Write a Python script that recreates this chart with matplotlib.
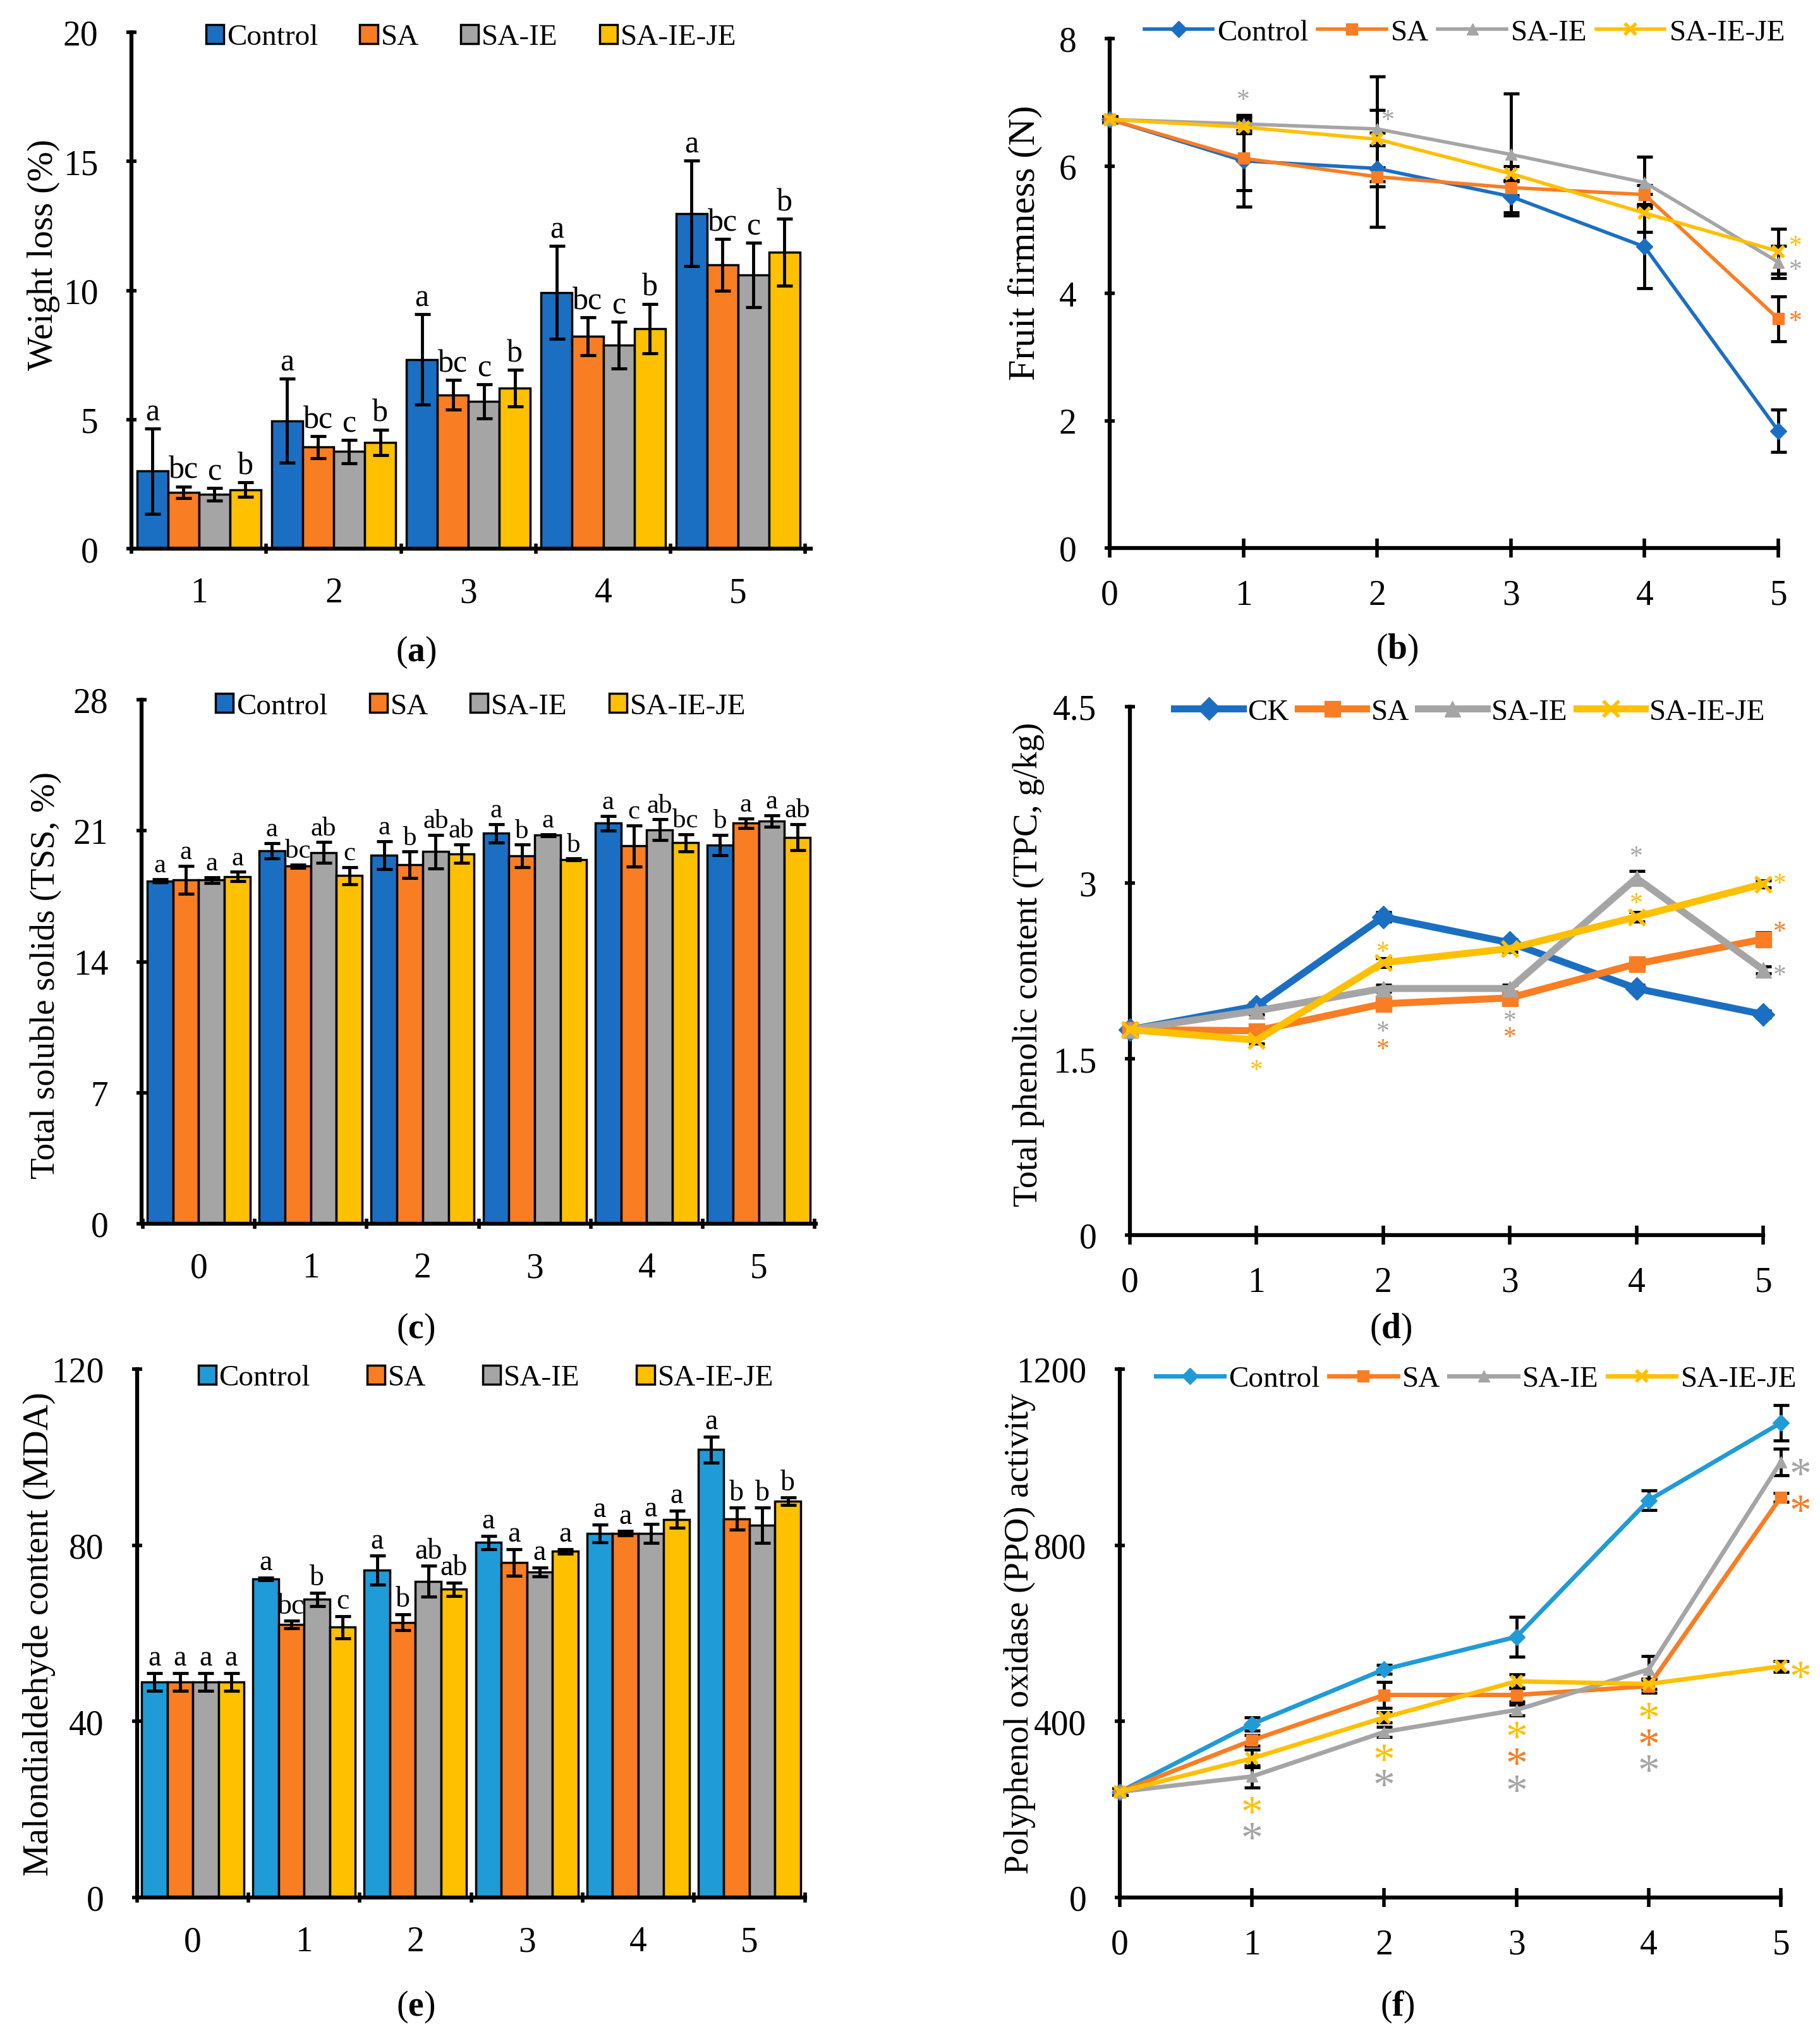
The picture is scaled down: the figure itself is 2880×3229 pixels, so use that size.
import numpy as np
import matplotlib.pyplot as plt

plt.rcParams['font.family'] = 'Liberation Serif'
plt.rcParams['mathtext.fontset'] = 'custom'
plt.rcParams['mathtext.rm'] = 'Liberation Serif'
plt.rcParams['mathtext.bf'] = 'Liberation Serif:bold'

# ---------------- data ----------------
names = ['Control', 'SA', 'SA-IE', 'SA-IE-JE']
tpc_names = ['CK', 'SA', 'SA-IE', 'SA-IE-JE']

# (a) weight loss, days 1-5
wl_days = [1, 2, 3, 4, 5]
wl_control = [3.0, 4.95, 7.32, 9.92, 12.98]
wl_sa = [2.19, 3.93, 5.96, 8.22, 11.0]
wl_saie = [2.1, 3.76, 5.70, 7.88, 10.6]
wl_saieje = [2.28, 4.12, 6.21, 8.52, 11.48]
wl_control_err = [1.65, 1.63, 1.75, 1.8, 2.04]
wl_sa_err = [0.22, 0.42, 0.57, 0.74, 1.0]
wl_saie_err = [0.25, 0.45, 0.66, 0.91, 1.25]
wl_saieje_err = [0.28, 0.49, 0.71, 0.96, 1.3]
wl_letters = [['a'] * 5, ['bc'] * 5, ['c'] * 5, ['b'] * 5]

# (b) fruit firmness, days 0-5
ff_days = [0, 1, 2, 3, 4, 5]
ff_control = [6.73, 6.08, 5.96, 5.52, 4.73, 1.84]
ff_sa = [6.73, 6.12, 5.83, 5.66, 5.55, 3.60]
ff_saie = [6.73, 6.66, 6.58, 6.18, 5.74, 4.49]
ff_saieje = [6.73, 6.61, 6.42, 5.88, 5.26, 4.66]
ff_control_err = [0.05, 0.72, 0.92, 0.25, 0.65, 0.33]
ff_sa_err = [0.05, 0.50, 0.15, 0.12, 0.15, 0.35]
ff_saie_err = [0.05, 0.10, 0.82, 0.96, 0.40, 0.25]
ff_saieje_err = [0.05, 0.10, 0.10, 0.12, 0.30, 0.35]
# significance stars: (day, series index, y position)
ff_stars = [(1.0, 2, 7.12), (2.08, 2, 6.80), (5.13, 3, 4.83), (5.13, 2, 4.45), (5.13, 1, 3.65)]

# (c) total soluble solids, days 0-5
tss_days = [0, 1, 2, 3, 4, 5]
tss_control = [18.32, 19.93, 19.70, 20.86, 21.40, 20.23]
tss_sa = [18.37, 19.11, 19.18, 19.65, 20.19, 21.40]
tss_saie = [18.37, 19.84, 19.88, 20.77, 21.05, 21.51]
tss_saieje = [18.55, 18.60, 19.77, 19.46, 20.35, 20.65]
tss_control_err = [0.08, 0.40, 0.75, 0.50, 0.40, 0.55]
tss_sa_err = [0.75, 0.08, 0.70, 0.60, 1.10, 0.25]
tss_saie_err = [0.15, 0.55, 0.90, 0.05, 0.55, 0.30]
tss_saieje_err = [0.25, 0.45, 0.50, 0.05, 0.45, 0.70]
tss_letters = [['a', 'a', 'a', 'a', 'a', 'b'],
               ['a', 'bc', 'b', 'b', 'c', 'a'],
               ['a', 'ab', 'ab', 'a', 'ab', 'a'],
               ['a', 'c', 'ab', 'b', 'bc', 'ab']]

# (d) total phenolic content, days 0-5
tpc_days = [0, 1, 2, 3, 4, 5]
tpc_ck = [1.75, 1.95, 2.71, 2.49, 2.10, 1.88]
tpc_sa = [1.75, 1.74, 1.97, 2.02, 2.31, 2.52]
tpc_saie = [1.75, 1.91, 2.10, 2.10, 3.04, 2.26]
tpc_saieje = [1.75, 1.66, 2.32, 2.44, 2.71, 2.99]
tpc_ck_err = [0.02, 0.03, 0.04, 0.03, 0.03, 0.03]
tpc_sa_err = [0.02, 0.03, 0.03, 0.03, 0.03, 0.06]
tpc_saie_err = [0.02, 0.03, 0.03, 0.03, 0.06, 0.03]
tpc_saieje_err = [0.02, 0.03, 0.04, 0.03, 0.04, 0.03]
tpc_stars = [(1, 3, 1.45), (2, 3, 2.46), (2, 2, 1.78), (2, 1, 1.63),
             (3, 2, 1.87), (3, 1, 1.73), (4, 2, 3.27), (4, 3, 2.87),
             (5.13, 3, 3.04), (5.13, 1, 2.63), (5.13, 2, 2.26)]

# (e) malondialdehyde content, days 0-5
mda_days = [0, 1, 2, 3, 4, 5]
mda_control = [49.0, 72.4, 74.3, 80.6, 82.7, 101.7]
mda_sa = [49.0, 62.0, 62.5, 76.1, 82.7, 86.0]
mda_saie = [49.0, 67.7, 71.8, 73.9, 82.7, 84.5]
mda_saieje = [49.0, 61.4, 70.0, 78.6, 85.9, 90.0]
mda_control_err = [2.0, 0.3, 3.3, 1.5, 2.0, 3.0]
mda_sa_err = [2.0, 0.8, 1.8, 3.0, 0.5, 2.5]
mda_saie_err = [2.0, 1.5, 3.5, 1.0, 2.2, 4.0]
mda_saieje_err = [2.0, 2.5, 1.5, 0.5, 2.0, 0.8]
mda_letters = [['a', 'a', 'a', 'a', 'a', 'a'],
               ['a', 'bc', 'b', 'a', 'a', 'b'],
               ['a', 'b', 'ab', 'a', 'a', 'b'],
               ['a', 'c', 'ab', 'a', 'a', 'b']]

# (f) polyphenol oxidase activity, days 0-5
ppo_days = [0, 1, 2, 3, 4, 5]
ppo_control = [240, 394, 518, 592, 902, 1078]
ppo_sa = [240, 357, 460, 460, 480, 909]
ppo_saie = [240, 275, 376, 426, 518, 989]
ppo_saieje = [240, 316, 409, 491, 485, 525]
ppo_control_err = [8, 15, 10, 45, 22, 40]
ppo_sa_err = [8, 12, 30, 15, 15, 10]
ppo_saie_err = [8, 25, 12, 12, 30, 30]
ppo_saieje_err = [8, 20, 12, 15, 12, 12]
ppo_stars = [(1, 3, 210), (1, 2, 151), (2, 3, 329), (2, 2, 272),
             (3, 3, 381), (3, 1, 321), (3, 2, 260),
             (4, 3, 424), (4, 1, 364), (4, 2, 305),
             (5.15, 2, 979), (5.15, 1, 895), (5.15, 3, 518)]

# ---------------- style ----------------
BLUE = '#1B6FC2'
LBLUE = '#1F9BD7'
ORANGE = '#F97D23'
GRAY = '#A5A5A5'
YELLOW = '#FFC000'
W, H = 2880, 3230

fig = plt.figure(figsize=(W / 100, H / 100), dpi=100)


def px_axes(left, top, right, bottom):
    return fig.add_axes([left / W, 1 - bottom / H, (right - left) / W, (bottom - top) / H])


def style_axes(ax, ylim, yticks, yticklabels, ylabel, lab_xy, lab_fs):
    for s in ['top', 'right']:
        ax.spines[s].set_visible(False)
    for s in ['left', 'bottom']:
        ax.spines[s].set_linewidth(4.5)
    ax.set_ylim(ylim)
    ax.set_yticks(yticks)
    ax.set_yticklabels(yticklabels)
    ax.tick_params(axis='y', direction='inout', length=12, width=4, labelsize=40, pad=32)
    ax.set_ylabel(ylabel, fontsize=lab_fs)
    ax.yaxis.set_label_coords(*lab_xy)


def bar_panel(ax, days, vals, errs, letters, colors, xlim, leg_xy, colsp, letter_fs):
    w = 0.23
    for i in range(4):
        x = np.array(days) + (i - 1.5) * w
        ax.bar(x, vals[i], w, color=colors[i], edgecolor='black', linewidth=2.5,
               label=names[i], zorder=2)
        ax.errorbar(x, vals[i], yerr=errs[i], fmt='none', ecolor='black',
                    elinewidth=3.5, capsize=9, capthick=3.5, zorder=3)
        for xx, v, e, t in zip(x, vals[i], errs[i], letters[i]):
            ax.annotate(t, (xx, v + e), xytext=(0, 2), textcoords='offset points',
                        ha='center', va='bottom', fontsize=letter_fs)
    ax.set_xlim(xlim)
    ax.set_xticks(days)
    ax.set_xticks(np.arange(days[0] - 0.5, days[-1] + 1, 1), minor=True)
    ax.tick_params(axis='x', which='major', length=0, labelsize=40, pad=32)
    ax.tick_params(axis='x', which='minor', direction='inout', length=12, width=4)
    ax.legend(loc='center', bbox_to_anchor=leg_xy, ncol=4, frameon=False, fontsize=34,
              handlelength=0.6, handleheight=0.6, handletextpad=0.1,
              columnspacing=colsp, borderpad=0)


def line_panel(ax, days, vals, errs, labels, colors, lw, ms, leg_xy, stars, star_fs):
    markers = ['D', 's', '^', 'x']
    for i in range(4):
        ax.errorbar(days, vals[i], yerr=errs[i], fmt='none', ecolor='black',
                    elinewidth=3.5, capsize=9, capthick=3.5, zorder=2, clip_on=False)
    for i in range(4):
        mew = 4 if markers[i] == 'x' else 1
        ax.plot(days, vals[i], color=colors[i], marker=markers[i], lw=lw, ms=ms,
                mew=mew, label=labels[i], zorder=3, clip_on=False)
    for d, k, y in stars:
        ax.annotate('*', (d, y), xytext=(0, -0.47 * star_fs), textcoords='offset points',
                    ha='center', va='baseline', fontsize=star_fs, color=colors[k],
                    annotation_clip=False)
    ax.set_xlim(0, 5)
    ax.set_xticks(days)
    ax.tick_params(axis='x', direction='inout', length=22, width=4, labelsize=40, pad=24)
    ax.legend(loc='center', bbox_to_anchor=leg_xy, ncol=4, frameon=False, fontsize=34,
              handlelength=2.3, handletextpad=0.15, columnspacing=0.3, borderpad=0,
              numpoints=1)


def panel_label(x, y, letter):
    fig.text(x / W, 1 - y / H, '($\\mathbf{' + letter + '}$)', ha='center', va='center',
             fontsize=40)


# (a)
ax = px_axes(208, 52, 1283, 869)
bar_panel(ax, wl_days, [wl_control, wl_sa, wl_saie, wl_saieje],
          [wl_control_err, wl_sa_err, wl_saie_err, wl_saieje_err], wl_letters,
          [BLUE, ORANGE, GRAY, YELLOW], (0.53, 5.54), (0.5, 0.99), 1.4, 36)
style_axes(ax, (0, 20), [0, 5, 10, 15, 20], ['0', '5', '10', '15', '20'],
           'Weight loss (%)', (-0.105, 0.57), 41)
panel_label(658, 1032, 'a')

# (b)
ax = px_axes(1756, 62, 2814, 868)
line_panel(ax, ff_days, [ff_control, ff_sa, ff_saie, ff_saieje],
           [ff_control_err, ff_sa_err, ff_saie_err, ff_saieje_err], names,
           [BLUE, ORANGE, GRAY, YELLOW], 4, 13, (0.531, 1.012), ff_stars, 30)
style_axes(ax, (0, 8), [0, 2, 4, 6, 8], ['0', '2', '4', '6', '8'],
           'Fruit firmness (N)', (-0.101, 0.60), 43)
panel_label(2211, 1028, 'b')

# (c)
ax = px_axes(224, 1108, 1291, 1937)
bar_panel(ax, tss_days, [tss_control, tss_sa, tss_saie, tss_saieje],
          [tss_control_err, tss_sa_err, tss_saie_err, tss_saieje_err], tss_letters,
          [BLUE, ORANGE, GRAY, YELLOW], (-0.51, 5.51), (0.503, 0.987), 1.4, 31)
style_axes(ax, (0, 28), [0, 7, 14, 21, 28], ['0', '7', '14', '21', '28'],
           'Total soluble solids (TSS, %)', (-0.118, 0.475), 39.5)
panel_label(658, 2103, 'c')

# (d)
ax = px_axes(1788, 1119, 2790, 1955)
line_panel(ax, tpc_days, [tpc_ck, tpc_sa, tpc_saie, tpc_saieje],
           [tpc_ck_err, tpc_sa_err, tpc_saie_err, tpc_saieje_err], tpc_names,
           [BLUE, ORANGE, GRAY, YELLOW], 8, 18, (0.537, 0.99), tpc_stars, 30)
style_axes(ax, (0, 4.5), [0, 1.5, 3, 4.5], ['0', '1.5', '3', '4.5'],
           'Total phenolic content (TPC, g/kg)', (-0.135, 0.513), 39.5)
panel_label(2201, 2103, 'd')

# (e)
ax = px_axes(217, 2167, 1274, 3003)
bar_panel(ax, mda_days, [mda_control, mda_sa, mda_saie, mda_saieje],
          [mda_control_err, mda_sa_err, mda_saie_err, mda_saieje_err], mda_letters,
          [LBLUE, ORANGE, GRAY, YELLOW], (-0.47, 5.49), (0.522, 0.983), 1.9, 33)
style_axes(ax, (0, 120), [0, 40, 80, 120], ['0', '40', '80', '120'],
           'Malondialdehyde content (MDA)', (-0.122, 0.50), 41)
panel_label(658, 3175, 'e')

# (f)
ax = px_axes(1772, 2167, 2818, 3003)
line_panel(ax, ppo_days, [ppo_control, ppo_sa, ppo_saie, ppo_saieje],
           [ppo_control_err, ppo_sa_err, ppo_saie_err, ppo_saieje_err], names,
           [LBLUE, ORANGE, GRAY, YELLOW], 5, 13, (0.539, 0.981), ppo_stars, 50)
style_axes(ax, (0, 1200), [0, 400, 800, 1200], ['0', '400', '800', '1200'],
           'Polyphenol oxidase (PPO) activity', (-0.127, 0.50), 39.5)
panel_label(2211, 3175, 'f')

fig.savefig('out.png', dpi=100)
